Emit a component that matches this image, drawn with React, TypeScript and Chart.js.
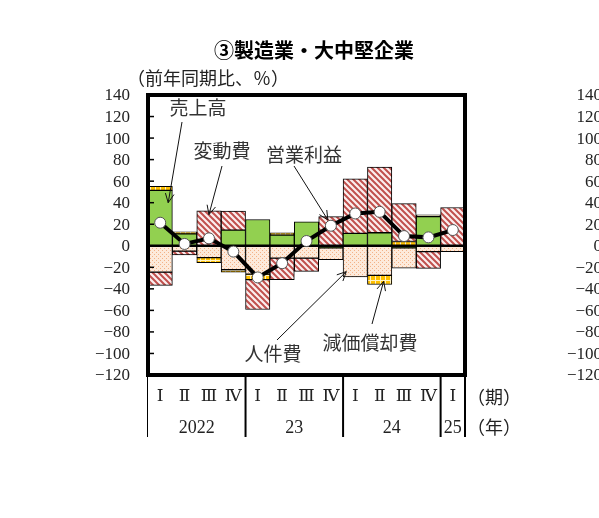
import { useEffect, useRef } from "react"
import { Chart, type ChartConfiguration, type Plugin, registerables } from "chart.js"

Chart.register(...registerables)

// quarters 2022 I .. 2025 I
const quarters = ["Ⅰ", "Ⅱ", "Ⅲ", "Ⅳ", "Ⅰ", "Ⅱ", "Ⅲ", "Ⅳ", "Ⅰ", "Ⅱ", "Ⅲ", "Ⅳ", "Ⅰ"]
const years = ["2022", "23", "24", "25"]
const yearSpans = [4, 4, 4, 1]

// contributions to operating profit growth (%pt)
const sales = [51.4, 11, 0, 14.6, 24.4, 10, 22.3, -2, 11.5, 12.1, -2, 27, 0]
const personnel = [-24.5, -5, -11, -22.3, -26.3, -11.5, -11.5, -11, -29, -27.5, -18.8, -5.4, -5.4]
const depreciation = [3.7, 2, -4.6, -2.2, -5.2, 2, 0, 0, 0, -8.5, 4, 1.7, 0]
const variableCost = [-12.3, -3.5, 32.4, 17.5, -27.7, -20, -12.3, 27, 50.7, 60.9, 35.2, -15.6, 35.5]
const operatingProfit = [21.4, 1.7, 6.9, -5.4, -29.4, -16.2, 4.4, 18.6, 30, 31.5, 9, 7.8, 14.6]

const yTicks = [140, 120, 100, 80, 60, 40, 20, 0, -20, -40, -60, -80, -100, -120]

const JP = '"Noto Sans CJK JP", "Noto Sans", sans-serif'
const SERIF = '"Liberation Serif", "DejaVu Serif", serif'

function makePattern(size: number, draw: (c: CanvasRenderingContext2D) => void) {
  const tile = document.createElement("canvas")
  tile.width = size
  tile.height = size
  const c = tile.getContext("2d")!
  draw(c)
  return c.createPattern(tile, "repeat")!
}

function arrow(ctx: CanvasRenderingContext2D, x1: number, y1: number, x2: number, y2: number, head = true) {
  ctx.beginPath()
  ctx.moveTo(x1, y1)
  ctx.lineTo(x2, y2)
  ctx.stroke()
  if (!head) return
  const a = Math.atan2(y2 - y1, x2 - x1)
  const len = 10
  const spread = 0.45
  ctx.beginPath()
  ctx.moveTo(x2 - len * Math.cos(a - spread), y2 - len * Math.sin(a - spread))
  ctx.lineTo(x2, y2)
  ctx.lineTo(x2 - len * Math.cos(a + spread), y2 - len * Math.sin(a + spread))
  ctx.stroke()
}

const decorations: Plugin = {
  id: "decorations",
  beforeDatasetDraw(chart, args) {
    if (args.index !== 4) return
    const { ctx, chartArea } = chart
    const y0 = chart.scales.y.getPixelForValue(0)
    ctx.save()
    ctx.strokeStyle = "#000"
    ctx.lineWidth = 2.5
    ctx.beginPath()
    ctx.moveTo(chartArea.left, y0)
    ctx.lineTo(chartArea.right, y0)
    ctx.stroke()
    ctx.restore()
  },
  afterDraw(chart) {
    const { ctx, chartArea } = chart
    const xs = chart.scales.x
    const ys = chart.scales.y
    const px = (i: number) => xs.getPixelForValue(i)
    const py = (v: number) => ys.getPixelForValue(v)
    ctx.save()

    // frame
    ctx.strokeStyle = "#000"
    ctx.lineWidth = 4
    ctx.strokeRect(chartArea.left, chartArea.top, chartArea.right - chartArea.left, chartArea.bottom - chartArea.top)

    // y ticks + labels (and the neighbouring panel's labels cut at the edge)
    ctx.lineWidth = 1.5
    ctx.fillStyle = "#222"
    ctx.font = `17px ${SERIF}`
    ctx.textAlign = "right"
    ctx.textBaseline = "middle"
    yTicks.forEach((v) => {
      const y = py(v)
      ctx.beginPath()
      ctx.moveTo(chartArea.left, y)
      ctx.lineTo(chartArea.left + 6, y)
      ctx.stroke()
      const t = v < 0 ? "\u2212" + Math.abs(v) : String(v)
      ctx.fillText(t, 130, y + 1)
      ctx.fillText(t, 602, y + 1)
    })

    // x axis: quarters, years and separators
    const bottom = 437
    const half = (px(1) - px(0)) / 2
    ctx.textAlign = "center"
    ctx.font = `17px ${SERIF}`
    quarters.forEach((q, i) => ctx.fillText(q, px(i), 397))
    ctx.strokeStyle = "#000"
    ctx.lineWidth = 1
    ctx.beginPath()
    ctx.moveTo(chartArea.left - 0.5, chartArea.bottom)
    ctx.lineTo(chartArea.left - 0.5, bottom)
    ctx.stroke()
    let start = 0
    ctx.font = `18px ${SERIF}`
    years.forEach((yr, k) => {
      const end = start + yearSpans[k] - 1
      ctx.fillText(yr, (px(start) + px(end)) / 2, 428)
      const xr = px(end) + half
      ctx.lineWidth = 2
      ctx.beginPath()
      ctx.moveTo(xr, chartArea.bottom)
      ctx.lineTo(xr, bottom)
      ctx.stroke()
      start = end + 1
    })

    ctx.textAlign = "left"
    ctx.font = `18px ${JP}`
    ctx.fillStyle = "#222"
    ctx.fillText("（期）", 467, 397)
    ctx.fillText("（年）", 467, 427)

    // title and unit
    ctx.textAlign = "center"
    ctx.fillStyle = "#000"
    ctx.font = `bold 20px ${JP}`
    ctx.fillText("③製造業・大中堅企業", 314, 50)
    ctx.textAlign = "left"
    ctx.fillStyle = "#222"
    ctx.font = `18px ${JP}`
    ctx.fillText("（前年同期比、％）", 127, 78)

    // annotations
    ctx.font = `19px ${JP}`
    ctx.textAlign = "center"
    ctx.fillStyle = "#333"
    ctx.fillText("売上高", 198, 108)
    ctx.fillText("変動費", 222, 151)
    ctx.fillText("営業利益", 304, 155)
    ctx.fillText("人件費", 273, 354)
    ctx.fillText("減価償却費", 370, 343)

    ctx.strokeStyle = "#111"
    ctx.lineWidth = 1
    arrow(ctx, 182, 122, px(0) + 8, py(40))
    arrow(ctx, 222, 166, px(2), py(29))
    arrow(ctx, 294, 166, px(7) - 3, py(24))
    arrow(ctx, 277, 340, px(8) - 9, py(-24))
    arrow(ctx, 372, 324, px(9) + 4, py(-33))

    ctx.restore()
  },
}

export default function App() {
  const canvasRef = useRef<HTMLCanvasElement>(null)
  const chartRef = useRef<Chart | null>(null)

  useEffect(() => {
    if (!canvasRef.current) return
    if (chartRef.current) chartRef.current.destroy()

    const hatch = makePattern(6, (c) => {
      c.fillStyle = "#fbeeee"
      c.fillRect(0, 0, 6, 6)
      c.strokeStyle = "#c0504d"
      c.lineWidth = 2
      c.beginPath()
      c.moveTo(0, 0)
      c.lineTo(6, 6)
      c.moveTo(5, -1)
      c.lineTo(7, 1)
      c.moveTo(-1, 5)
      c.lineTo(1, 7)
      c.stroke()
    })
    const dots = makePattern(4, (c) => {
      c.fillStyle = "#fdeadb"
      c.fillRect(0, 0, 4, 4)
      c.fillStyle = "#f3b287"
      c.fillRect(0, 0, 1, 1)
      c.fillRect(2, 2, 1, 1)
    })
    const grid = makePattern(5, (c) => {
      c.fillStyle = "#ffc000"
      c.fillRect(0, 0, 5, 5)
      c.fillStyle = "#fff3c4"
      c.fillRect(0, 0, 5, 1)
      c.fillRect(0, 0, 1, 5)
    })

    const barBase = {
      type: "bar" as const,
      stack: "s",
      order: 1,
      borderColor: "#000",
      borderWidth: 1,
      borderSkipped: false as const,
      categoryPercentage: 1,
      barPercentage: 1,
    }

    const config: ChartConfiguration = {
      type: "bar",
      data: {
        labels: quarters,
        datasets: [
          { ...barBase, label: "売上高", data: sales, backgroundColor: "#92d050" },
          { ...barBase, label: "人件費", data: personnel, backgroundColor: dots },
          { ...barBase, label: "減価償却費", data: depreciation, backgroundColor: grid },
          { ...barBase, label: "変動費", data: variableCost, backgroundColor: hatch },
          {
            type: "line",
            label: "営業利益",
            stack: "p",
            order: 0,
            data: operatingProfit,
            borderColor: "#000",
            borderWidth: 4,
            pointRadius: 5.5,
            pointBackgroundColor: "#fff",
            pointBorderColor: "#555",
            pointBorderWidth: 1,
            tension: 0,
          } as any,
        ],
      },
      options: {
        responsive: false,
        animation: false,
        layout: { padding: { left: 148, right: 134, top: 95, bottom: 143 } },
        plugins: { legend: { display: false }, title: { display: false }, tooltip: { enabled: false } },
        scales: {
          x: { display: false, stacked: true },
          y: { display: false, stacked: true, min: -120, max: 140 },
        },
      },
      plugins: [decorations],
    }

    chartRef.current = new Chart(canvasRef.current, config)
    return () => {
      chartRef.current?.destroy()
      chartRef.current = null
    }
  }, [])

  return (
    <div style={{ position: "fixed", left: 0, top: 0, width: 599, height: 518, background: "#fff" }}>
      <canvas ref={canvasRef} width={599} height={518} style={{ display: "block" }} />
    </div>
  )
}
